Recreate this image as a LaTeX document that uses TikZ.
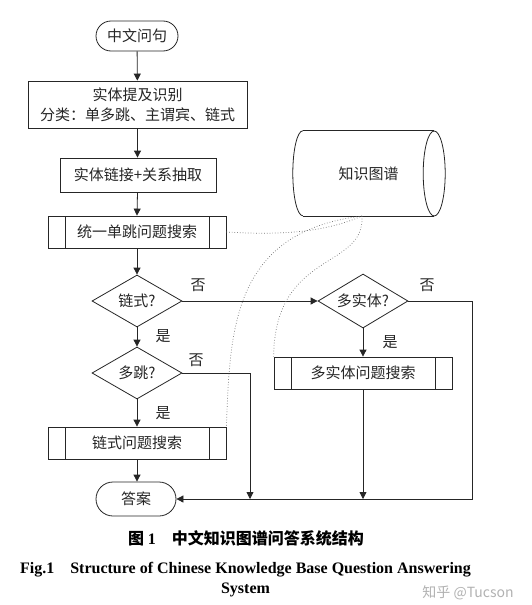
\documentclass[tikz,border=0pt]{standalone}
\usepackage{fontspec}
\setmainfont{Liberation Serif}
\newfontfamily\cjk{Noto Sans CJK SC}
\usetikzlibrary{shapes.geometric,arrows.meta}
\begin{document}
\begin{tikzpicture}[x=1pt,y=-1pt,
  every node/.style={font=\cjk\fontsize{15pt}{20pt}\selectfont, text=black!85},
  ln/.style={draw=black!85, line width=0.8pt},
  arr/.style={ln, -{Triangle[length=7pt,width=7pt]}},
  dots/.style={draw=black!55, line width=0.7pt, dotted},
  term/.style={ln, rounded corners=15pt, minimum width=82pt, minimum height=30pt, inner sep=0pt},
  box/.style={ln, minimum height=34pt, inner sep=0pt},
  proc/.style={ln, minimum width=178pt, minimum height=32pt, inner sep=0pt,
    path picture={\draw[black!85, line width=0.8pt]
      ([xshift=17pt]path picture bounding box.north west) -- ([xshift=17pt]path picture bounding box.south west)
      ([xshift=-17pt]path picture bounding box.north east) -- ([xshift=-17pt]path picture bounding box.south east);}},
  dec/.style={ln, diamond, aspect=1.7, minimum width=90pt, minimum height=52pt, inner sep=0pt},
  lab/.style={inner sep=0pt}
]
\fill[white] (0,0) rectangle (532,605);
\useasboundingbox (0,0) rectangle (532,605);

% nodes
\node[term] (start) at (137,36) {中文问句};
\node[box, minimum width=219pt, minimum height=47pt, align=center] (b1) at (137.5,104.5) {实体提及识别\\分类：单多跳、主谓宾、链式};
\node[box, minimum width=156pt] (b2) at (138,175) {实体链接+关系抽取};
\node[proc] (b3) at (137,232) {统一单跳问题搜索};
\node[dec] (d1) at (137,301) {链式?};
\node[dec] (d2) at (137,373) {多跳?};
\node[proc] (b4) at (137,443) {链式问题搜索};
\node[term, minimum width=80pt, minimum height=34pt, rounded corners=17pt] (ans) at (136,499) {答案};
\node[dec, minimum height=54pt] (d3) at (363,301) {多实体?};
\node[proc] (b5) at (363,373) {多实体问题搜索};

% knowledge graph drum
\node[minimum width=131pt, minimum height=85pt, inner sep=0pt] (kg) at (368.5,173.5) {知识图谱};
\draw[ln] (kg.north west) -- (kg.north east)
          (kg.south west) -- (kg.south east);
\draw[ln] (kg.east) ellipse [x radius=11pt, y radius=42.5pt];
\draw[ln] (kg.north west) arc[start angle=90, end angle=270, x radius=10pt, y radius=42.5pt];
\coordinate (kgb) at (362,216);

% junction coordinates
\coordinate (j1) at (250,499);
\coordinate (j2) at (363,499);
\coordinate (c2) at (472,499);

% connectors
\draw[arr] (start) -- (b1);
\draw[arr] (b1.south) -- (b1.south |- b2.north);
\draw[arr] (b1.south |- b2.south) -- (b3.north);
\draw[arr] (b3) -- (d1);
\draw[arr] (d1) -- (d2);
\draw[arr] (d2) -- (b4);
\draw[arr] (b4.south) -- (b4.south |- ans.north);
\draw[arr] (d1.east) -- (d3.west);
\draw[arr] (d2.east) -| (j1);
\draw[arr] (d3) -- (b5);
\draw[arr] (b5) -- (j2);
\draw[arr] (d3.east) -| (c2) -- (ans.east);

% dotted links to knowledge graph
\draw[dots] (b3.east) .. controls (290,236) and (330,230) .. (kgb);
\draw[dots] (kgb) .. controls (232,232) and (230,330) .. (b4.north east);
\draw[dots] (kgb) .. controls (365,270) and (275,250) .. (b5.north west);

% edge labels
\node[lab] (no1) at (198,285) {否};
\node[lab] (yes1) at (163,336) {是};
\node[lab] (no2) at (196,360) {否};
\node[lab] (yes2) at (163,413) {是};
\node[lab] (no3) at (427,285) {否};
\node[lab] (yes3) at (390,342) {是};

% captions
\node[font=\cjk\bfseries\fontsize{16pt}{20pt}\selectfont, text=black] (cap1) at (246,538) {图 \textrm{1}\hspace{1em}中文知识图谱问答系统结构};
\node[font=\bfseries\fontsize{16pt}{20pt}\selectfont, text=black, align=center, inner sep=0pt] (cap2) at (245.5,580) {Fig.1\quad Structure of Chinese Knowledge Base Question Answering\\System};
\node[font=\cjk\fontsize{14pt}{16pt}\selectfont, text=black!30, inner sep=0pt] (wm) at (468,593) {知乎 @Tucson};
\end{tikzpicture}
\end{document}
